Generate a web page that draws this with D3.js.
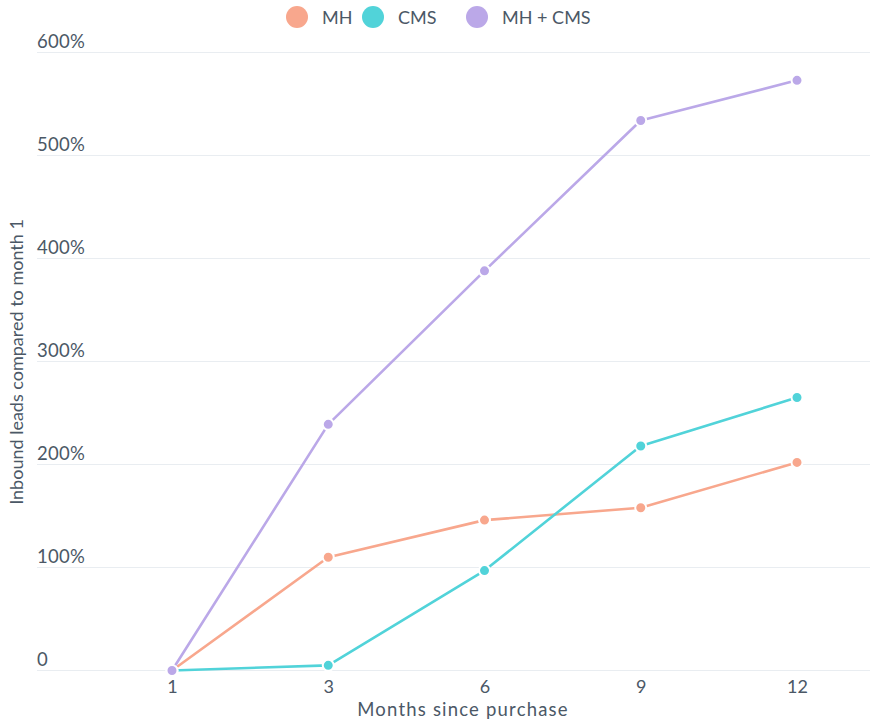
<!DOCTYPE html>
<html>
<head>
<meta charset="utf-8">
<script src="https://cdn.jsdelivr.net/npm/d3@7"></script>
<style>
  html, body { margin: 0; padding: 0; background: #fff; }
  svg { display: block; font-family: Lato, "Open Sans", sans-serif; }
</style>
</head>
<body>
<svg id="chart" width="870" height="726"></svg>
<script>
// Months since purchase (categorical x positions)
const months = ["1", "3", "6", "9", "12"];

// Inbound leads growth vs. month 1, in percent
const mhValues    = [0, 110, 146, 158, 202];
const cmsValues   = [0, 5, 97, 218, 265];
const mhCmsValues = [0, 239, 388, 534, 573];

const seriesNames = ["MH", "CMS", "MH + CMS"];
const seriesColors = ["#f8a78d", "#51d3d9", "#bba8e8"];

const yTicks = [0, 100, 200, 300, 400, 500, 600];
const yTickLabels = ["0", "100%", "200%", "300%", "400%", "500%", "600%"];

const series = [
  { name: seriesNames[0], color: seriesColors[0], values: mhValues },
  { name: seriesNames[1], color: seriesColors[1], values: cmsValues },
  { name: seriesNames[2], color: seriesColors[2], values: mhCmsValues }
];

const svg = d3.select("#chart");
const textColor = "#4b5866";

const x = d3.scalePoint().domain(months).range([172, 797]);
const y = d3.scaleLinear().domain([0, 600]).range([670.5, 52.5]);

// Horizontal gridlines with left-aligned labels sitting above each line
const grid = svg.append("g");
grid.selectAll("line").data(yTicks).join("line")
  .attr("x1", 37).attr("x2", 870)
  .attr("y1", d => y(d)).attr("y2", d => y(d))
  .attr("stroke", "#e9edf1").attr("stroke-width", 1.2);
grid.selectAll("text").data(yTicks).join("text")
  .attr("x", 37).attr("y", d => y(d) - 4.5)
  .attr("fill", textColor).attr("font-size", 18.5)
  .attr("letter-spacing", 0.3)
  .text((d, i) => yTickLabels[i]);

// X axis labels
const xAxis = svg.append("g").attr("transform", "translate(0,670.5)")
  .call(d3.axisBottom(x).tickSize(0).tickPadding(22));
xAxis.select(".domain").remove();
xAxis.selectAll("text")
  .attr("fill", textColor).attr("font-size", 18)
  .attr("font-family", "Lato, 'Open Sans', sans-serif")
  .attr("dy", 0);

// Axis titles
svg.append("text")
  .attr("x", 463).attr("y", 716)
  .attr("text-anchor", "middle").attr("fill", textColor).attr("font-size", 18.5)
  .attr("letter-spacing", 1.2)
  .text("Months since purchase");
svg.append("text")
  .attr("transform", "translate(23,362) rotate(-90)")
  .attr("text-anchor", "middle").attr("fill", textColor).attr("font-size", 18)
  .text("Inbound leads compared to month 1");

// Lines and markers
const line = d3.line().x((d, i) => x(months[i])).y(d => y(d));
const plot = svg.append("g");
series.forEach(s => {
  const g = plot.append("g");
  g.append("path")
    .attr("d", line(s.values))
    .attr("fill", "none").attr("stroke", s.color)
    .attr("stroke-width", 2.6).attr("stroke-linejoin", "round");
  g.selectAll("circle").data(s.values).join("circle")
    .attr("cx", (d, i) => x(months[i])).attr("cy", d => y(d))
    .attr("r", 5.5).attr("fill", s.color)
    .attr("stroke", "#fff").attr("stroke-width", 2);
});

// Legend
const legendX = [297, 373, 477];
const legend = svg.append("g");
series.forEach((s, i) => {
  legend.append("circle")
    .attr("cx", legendX[i]).attr("cy", 17).attr("r", 11)
    .attr("fill", s.color);
  legend.append("text")
    .attr("x", legendX[i] + 25).attr("y", 23.5)
    .attr("fill", textColor).attr("font-size", 18)
    .text(s.name);
});
</script>
</body>
</html>
